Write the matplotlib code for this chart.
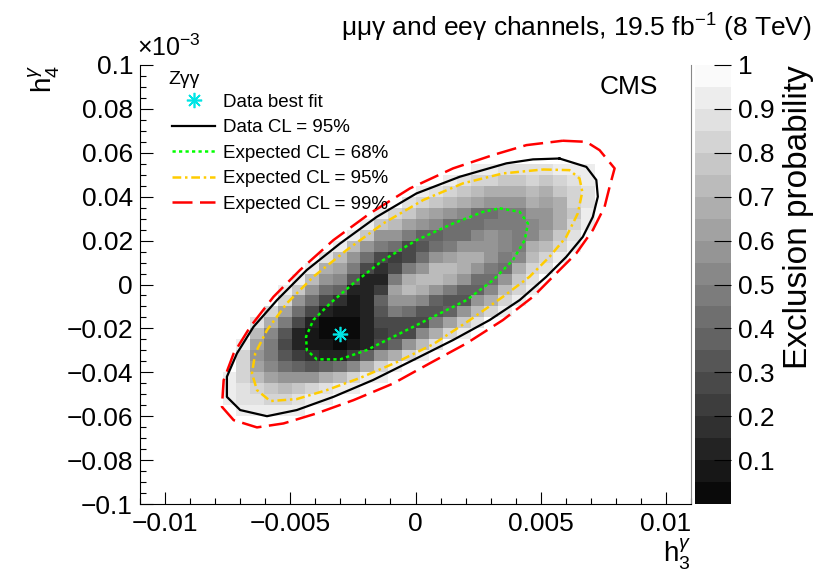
import numpy as np
import matplotlib
matplotlib.use("Agg")
import matplotlib.pyplot as plt
from matplotlib.colors import ListedColormap, BoundaryNorm
from matplotlib.lines import Line2D
from matplotlib.ticker import MultipleLocator, FuncFormatter

plt.rcParams['font.family'] = ['Liberation Sans', 'DejaVu Sans']
plt.rcParams['mathtext.fontset'] = 'custom'
plt.rcParams['mathtext.rm'] = 'Liberation Sans'
plt.rcParams['mathtext.it'] = 'Liberation Sans:italic'
plt.rcParams['mathtext.bf'] = 'Liberation Sans:bold'

# 40 x 40 histogram binning: h3 in [-0.011, 0.011], h4 in [-0.1, 0.1] (x 1e-3)
n_bins = 40
h3_range = (-0.011, 0.011)
h4_range = (-0.1, 0.1)

# exclusion probability (percent), one entry per filled row: (row, first column, values)
exclusion_rows = [
    (8, 7, [94, 92, 91, 92, 94]),
    (9, 6, [94, 89, 86, 84, 85, 88, 92, 94]),
    (10, 6, [92, 86, 80, 76, 74, 78, 82, 86, 92, 94]),
    (11, 6, [93, 83, 72, 64, 60, 60, 60, 66, 72, 80, 92, 94]),
    (12, 7, [81, 64, 52, 40, 36, 33, 38, 42, 52, 70, 84, 93]),
    (13, 7, [82, 60, 46, 31, 22, 18, 13, 12, 20, 38, 58, 66, 80, 94]),
    (14, 7, [90, 63, 45, 29, 12, 8, 5, 3, 6, 14, 28, 38, 57, 74, 87]),
    (15, 8, [72, 52, 34, 14, 6, 2, 2, 3, 12, 22, 26, 30, 53, 68, 80, 94]),
    (16, 8, [88, 66, 46, 28, 15, 4, 3, 4, 15, 26, 30, 28, 30, 46, 62, 76, 88]),
    (17, 9, [84, 63, 42, 30, 12, 7, 6, 14, 35, 45, 40, 32, 32, 36, 56, 72, 84, 94]),
    (18, 10, [80, 58, 42, 30, 18, 8, 10, 38, 60, 60, 50, 38, 33, 35, 55, 70, 84, 94]),
    (19, 10, [94, 76, 55, 42, 38, 14, 10, 22, 62, 72, 70, 60, 45, 38, 38, 53, 72, 85, 94]),
    (20, 11, [93, 72, 55, 50, 32, 14, 15, 45, 65, 73, 72, 68, 55, 42, 40, 59, 76, 88]),
    (21, 12, [90, 68, 62, 46, 28, 18, 28, 45, 60, 72, 72, 70, 58, 45, 44, 66, 80, 88]),
    (22, 13, [88, 74, 58, 42, 30, 24, 30, 40, 55, 62, 68, 66, 58, 48, 54, 73, 80, 92]),
    (23, 14, [90, 72, 58, 45, 40, 30, 33, 40, 45, 55, 60, 60, 52, 47, 65, 72, 85, 94]),
    (24, 15, [91, 76, 60, 56, 49, 36, 38, 40, 42, 50, 55, 52, 46, 52, 63, 77, 88]),
    (25, 16, [93, 78, 71, 63, 57, 51, 40, 42, 43, 47, 48, 46, 53, 57, 69, 82, 93]),
    (26, 17, [94, 85, 76, 70, 64, 58, 54, 43, 43, 45, 47, 55, 58, 67, 79, 90]),
    (27, 19, [89, 82, 77, 71, 67, 61, 56, 56, 59, 65, 63, 70, 80, 89]),
    (28, 20, [94, 88, 82, 79, 74, 70, 68, 70, 72, 70, 75, 81, 89]),
    (29, 22, [94, 89, 85, 81, 79, 79, 80, 79, 82, 86, 91]),
    (30, 24, [94, 93, 88, 87, 89, 88, 90, 92, 94]),
]

best_fit_h3 = [-0.0030]
best_fit_h4 = [-0.0225]

data95_h3 = [0.00575, 0.00682, 0.00722, 0.00728, 0.00708, 0.00668, 0.00602, 0.00522, 0.00416, 0.00296,
             0.00150, -0.00009, -0.00169, -0.00328, -0.00474, -0.00593, -0.00700, -0.00753, -0.00753,
             -0.00713, -0.00647, -0.00553, -0.00434, -0.00301, -0.00155, 0.00004, 0.00177, 0.00363,
             0.00469, 0.00575]
data95_h4 = [0.0574, 0.0536, 0.0476, 0.0400, 0.0308, 0.0217, 0.0126, 0.0035, -0.0071, -0.0162,
             -0.0253, -0.0344, -0.0435, -0.0512, -0.0572, -0.0600, -0.0572, -0.0512, -0.0420,
             -0.0314, -0.0193, -0.0071, 0.0066, 0.0187, 0.0308, 0.0415, 0.0491, 0.0552,
             0.0570, 0.0574]

exp68_h3 = [0.00336, 0.00416, 0.00449, 0.00436, 0.00389, 0.00310, 0.00204, 0.00071, -0.00062, -0.00195,
            -0.00301, -0.00394, -0.00434, -0.00437, -0.00408, -0.00341, -0.00248, -0.00129, 0.00004,
            0.00150, 0.00270, 0.00336]
exp68_h4 = [0.0347, 0.0331, 0.0278, 0.0202, 0.0111, 0.0020, -0.0071, -0.0147, -0.0223, -0.0299,
            -0.0341, -0.0341, -0.0299, -0.0238, -0.0162, -0.0086, 0.0005, 0.0111, 0.0202,
            0.0278, 0.0331, 0.0347]

exp95_h3 = [0.00509, 0.00615, 0.00655, 0.00666, 0.00648, 0.00602, 0.00535, 0.00455, 0.00349, 0.00217,
            0.00071, -0.00075, -0.00222, -0.00354, -0.00474, -0.00580, -0.00633, -0.00653, -0.00640,
            -0.00593, -0.00514, -0.00408, -0.00275, -0.00129, 0.00031, 0.00190, 0.00349, 0.00509]
exp95_h4 = [0.0524, 0.0521, 0.0483, 0.0422, 0.0324, 0.0217, 0.0126, 0.0035, -0.0056, -0.0162,
            -0.0272, -0.0354, -0.0426, -0.0481, -0.0522, -0.0531, -0.0481, -0.0405, -0.0314,
            -0.0208, -0.0086, 0.0035, 0.0157, 0.0278, 0.0385, 0.0461, 0.0506, 0.0524]

exp99_h3 = [0.00588, 0.00682, 0.00735, 0.00795, 0.00775, 0.00755, 0.00708, 0.00642, 0.00562, 0.00469,
            0.00349, 0.00204, 0.00057, -0.00089, -0.00248, -0.00394, -0.00527, -0.00633, -0.00726,
            -0.00773, -0.00766, -0.00726, -0.00660, -0.00567, -0.00461, -0.00328, -0.00182, -0.00022,
            0.00150, 0.00310, 0.00443, 0.00588]
exp99_h4 = [0.0655, 0.0650, 0.0612, 0.0529, 0.0445, 0.0354, 0.0248, 0.0142, 0.0051, -0.0056,
            -0.0162, -0.0268, -0.0359, -0.0451, -0.0527, -0.0587, -0.0633, -0.0651, -0.0618,
            -0.0557, -0.0436, -0.0314, -0.0193, -0.0056, 0.0066, 0.0202, 0.0324, 0.0438,
            0.0529, 0.0590, 0.0635, 0.0655]

legend_labels = ["Data best fit", "Data CL = 95%", "Expected CL = 68%",
                 "Expected CL = 95%", "Expected CL = 99%"]

grid = np.full((n_bins, n_bins), np.nan)
for j, k0, vals in exclusion_rows:
    grid[j, k0:k0 + len(vals)] = np.array(vals) / 100.0

x_edges = np.linspace(h3_range[0], h3_range[1], n_bins + 1)
y_edges = np.linspace(h4_range[0], h4_range[1], n_bins + 1)

grays = np.linspace(0.04, 0.98, 20)
cmap = ListedColormap([(g, g, g) for g in grays])
cmap.set_bad((1, 1, 1, 0))
norm = BoundaryNorm(np.linspace(0, 1, 21), cmap.N)

fig = plt.figure(figsize=(8.35, 5.77), dpi=100)
ax = fig.add_axes([140 / 835, 73 / 577, 551 / 835, 439 / 577])
cax = fig.add_axes([695 / 835, 73 / 577, 36 / 835, 439 / 577])

mesh = ax.pcolormesh(x_edges, y_edges, grid, cmap=cmap, norm=norm,
                     edgecolors='face', linewidth=0, antialiased=False)

red_ls = (0, (8, 3))
yel_ls = (0, (3.5, 1.5, 1, 1.5))
grn_ls = (0, (1.3, 1.3))
ax.plot(exp99_h3, exp99_h4, color='#ff0000', lw=1.8, ls=red_ls)
ax.plot(exp95_h3, exp95_h4, color='#ffcc00', lw=1.8, ls=yel_ls)
ax.plot(exp68_h3, exp68_h4, color='#00ff00', lw=1.8, ls=grn_ls)
ax.plot(data95_h3, data95_h4, color='black', lw=1.6)
ax.plot(best_fit_h3, best_fit_h4, ls='none', marker=(8, 2, 0), ms=11, mew=1.2, color='#00e5e5')

ax.set_xlim(*h3_range)
ax.set_ylim(*h4_range)


def tick_fmt(v, p):
    v = round(v, 6)
    if abs(v) < 1e-9:
        return '0'
    return f"{v:g}".replace('-', '\u2212')


ax.xaxis.set_major_locator(MultipleLocator(0.005))
ax.xaxis.set_minor_locator(MultipleLocator(0.001))
ax.yaxis.set_major_locator(MultipleLocator(0.02))
ax.yaxis.set_minor_locator(MultipleLocator(0.005))
ax.xaxis.set_major_formatter(FuncFormatter(tick_fmt))
ax.yaxis.set_major_formatter(FuncFormatter(tick_fmt))
ax.tick_params(which='both', direction='in', top=False, right=False, width=0.8, labelsize=19)
ax.tick_params(which='major', length=9)
ax.tick_params(which='minor', length=4.5)
ax.tick_params(axis='x', pad=6)
ax.tick_params(axis='y', pad=5)
ax.spines['top'].set_visible(False)
ax.spines['right'].set_color('#888888')
for s in ['left', 'bottom']:
    ax.spines[s].set_linewidth(0.8)

ax.set_xlabel(r'$\mathrm{h}_3^{\gamma}$', fontsize=20, loc='right', labelpad=0)
ax.set_ylabel(r'$\mathrm{h}_4^{\gamma}$', fontsize=20, loc='top', labelpad=3)

cb = fig.colorbar(mesh, cax=cax, ticks=np.arange(0.1, 1.01, 0.1))
cb.outline.set_visible(False)
cb.ax.yaxis.set_major_formatter(FuncFormatter(lambda v, p: f"{round(v, 3):g}"))
cax.tick_params(direction='in', length=12, width=0.8, labelsize=19, pad=5, right=True)
cax.minorticks_off()
cb.set_label('Exclusion probability', fontsize=24, loc='top', labelpad=6)

handles = [
    Line2D([], [], ls='none', marker=(8, 2, 0), ms=11, mew=1.2, color='#00e5e5'),
    Line2D([], [], color='black', lw=1.6),
    Line2D([], [], color='#00ff00', lw=1.8, ls=grn_ls),
    Line2D([], [], color='#ffcc00', lw=1.8, ls=yel_ls),
    Line2D([], [], color='#ff0000', lw=1.8, ls=red_ls),
]
ax.legend(handles, legend_labels, loc='upper left', bbox_to_anchor=(0.058, 0.935),
          frameon=False, fontsize=13.5, handlelength=2.3, handletextpad=0.4,
          labelspacing=0.45, borderaxespad=0, borderpad=0)

fig.text(168 / 835, 1 - 79 / 577, 'Z\u03b3\u03b3', fontsize=14, ha='left', va='center')
fig.text(658 / 835, 1 - 87 / 577, 'CMS', fontsize=19, ha='right', va='center')
fig.text(137 / 835, 1 - 48 / 577, '\u00d710$^{-3}$', fontsize=18, ha='left', va='center')
fig.text(812 / 835, 1 - 28 / 577, '\u03bc\u03bc\u03b3 and ee\u03b3 channels, 19.5 fb$^{-1}$ (8 TeV)',
         fontsize=19, ha='right', va='center')

fig.savefig('out.png', dpi=100)
